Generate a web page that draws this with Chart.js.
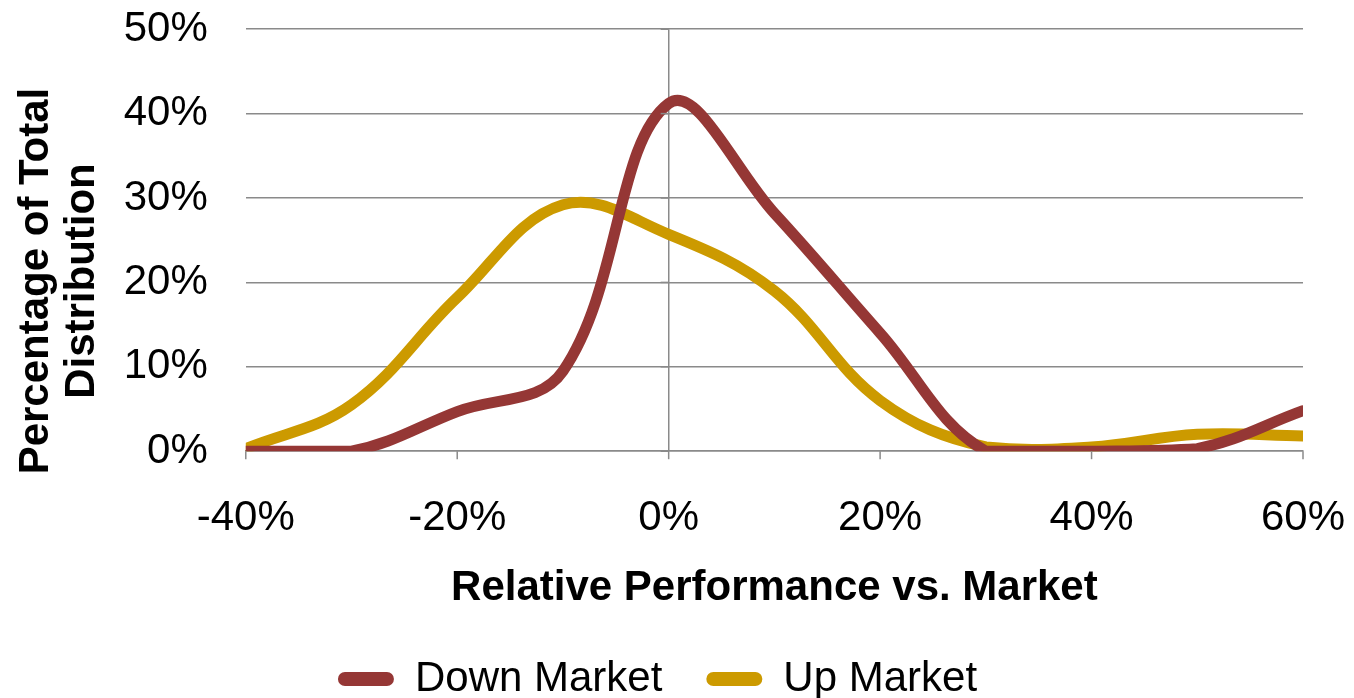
<!DOCTYPE html>
<html>
<head>
<meta charset="utf-8">
<script src="https://cdn.jsdelivr.net/npm/chart.js@4/dist/chart.umd.min.js"></script>
<style>
  html, body { margin: 0; padding: 0; background: #fff; }
  #wrap { width: 1354px; height: 698px; }
</style>
</head>
<body>
<div id="wrap"><canvas id="distChart"></canvas></div>
<script>
// Relative performance buckets (%)
const perfBuckets = [-40, -30, -20, -10, 0, 10, 20, 30, 40, 50, 60];
// Share of total distribution (%)
const downMarket = [0, 0, 4.7, 9.5, 41.2, 28.2, 14, 0, 0, 0.3, 4.8];
const upMarket = [0.3, 5.5, 18.2, 29.2, 25.7, 19, 6, 0.5, 0.5, 2, 1.8];

const GRID = '#8a8a8a';
const FONT = "'Liberation Sans', Arial, sans-serif";

// short tick marks: below the x axis, and left of the vertical axis at 0%
const axisTicks = {
    id: 'axisTicks',
    afterDraw(chart) {
        const { ctx, scales: { x, y } } = chart;
        const px0 = x.getPixelForValue(0);
        const py0 = y.getPixelForValue(0);
        ctx.save();
        ctx.strokeStyle = GRID;
        ctx.lineWidth = 1.5;
        y.ticks.forEach(t => {
            const py = y.getPixelForValue(t.value);
            ctx.beginPath();
            ctx.moveTo(px0 - 8, py);
            ctx.lineTo(px0, py);
            ctx.stroke();
        });
        x.ticks.forEach(t => {
            const px = x.getPixelForValue(t.value);
            ctx.beginPath();
            ctx.moveTo(px, py0);
            ctx.lineTo(px, py0 + 8);
            ctx.stroke();
        });
        ctx.restore();
    }
};

const ctx = document.getElementById('distChart').getContext('2d');
new Chart(ctx, {
    type: 'line',
    data: {
        datasets: [
            {
                label: 'Down Market',
                data: perfBuckets.map((x, i) => ({ x, y: downMarket[i] })),
                borderColor: '#953735',
                backgroundColor: '#953735',
                borderWidth: 11,
                borderCapStyle: 'round',
                pointRadius: 0,
                tension: 0.38
            },
            {
                label: 'Up Market',
                data: perfBuckets.map((x, i) => ({ x, y: upMarket[i] })),
                borderColor: '#CC9A00',
                backgroundColor: '#CC9A00',
                borderWidth: 11,
                borderCapStyle: 'round',
                pointRadius: 0,
                tension: 0.38
            }
        ]
    },
    options: {
        responsive: true,
        maintainAspectRatio: false,
        animation: false,
        layout: {
            autoPadding: false,
            padding: { top: 28, right: 51, left: 12, bottom: -12 }
        },
        plugins: {
            legend: {
                position: 'bottom',
                labels: {
                    color: '#000',
                    font: { family: FONT, size: 42 },
                    boxWidth: 56,
                    boxHeight: 14,
                    useBorderRadius: true,
                    borderRadius: 7,
                    padding: 44,
                    generateLabels: (chart) => Chart.defaults.plugins.legend.labels.generateLabels(chart)
                        .map(l => ({ ...l, lineWidth: 0 }))
                }
            },
            tooltip: { enabled: false }
        },
        scales: {
            x: {
                type: 'linear',
                min: -40,
                max: 60,
                ticks: {
                    stepSize: 20,
                    color: '#000',
                    font: { family: FONT, size: 42 },
                    padding: 0,
                    callback: (value) => value + '%'
                },
                grid: {
                    color: (c) => (c.tick && c.tick.value === 0) ? GRID : 'rgba(0,0,0,0)',
                    tickColor: 'rgba(0,0,0,0)',
                    tickLength: 42,
                    lineWidth: 1.5
                },
                border: { display: true, color: GRID, width: 1.5 },
                title: {
                    display: true,
                    text: 'Relative Performance vs. Market',
                    color: '#000',
                    font: { family: FONT, size: 42, weight: 'bold' },
                    padding: { top: 20, bottom: 0 }
                }
            },
            y: {
                min: 0,
                max: 50,
                ticks: {
                    stepSize: 10,
                    color: '#000',
                    font: { family: FONT, size: 42 },
                    padding: 4,
                    callback: (value) => value + '%'
                },
                grid: { color: GRID, lineWidth: 1.5, tickColor: 'rgba(0,0,0,0)', tickLength: 34 },
                border: { display: false },
                title: {
                    display: true,
                    // trailing spaces nudge the rotated title down, as in the original
                    text: ['Percentage of Total       ', 'Distribution       '],
                    color: '#000',
                    font: { family: FONT, size: 42, weight: 'bold', lineHeight: 1.08 },
                    padding: { top: 2, bottom: 15 }
                }
            }
        }
    },
    plugins: [axisTicks]
});
</script>
</body>
</html>
